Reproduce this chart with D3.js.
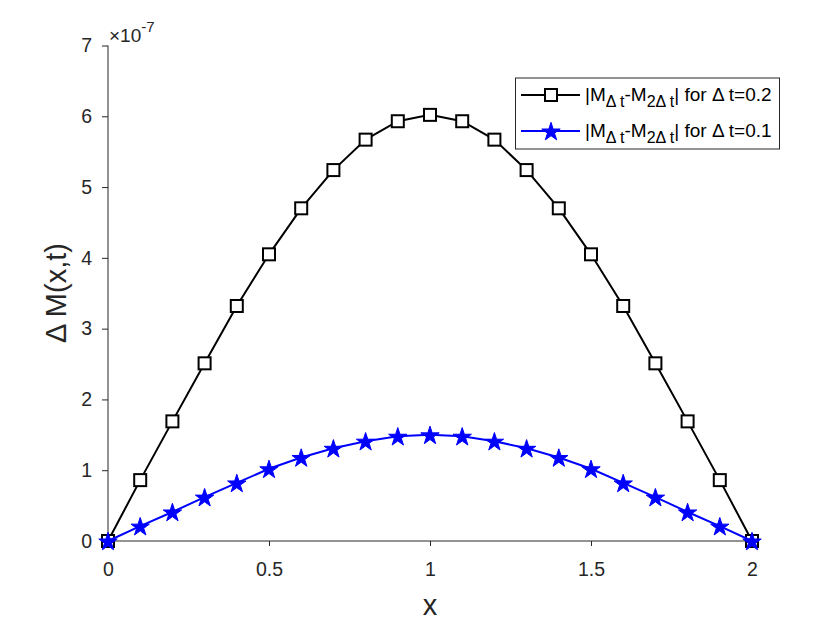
<!DOCTYPE html>
<html><head><meta charset="utf-8">
<script src="https://cdn.jsdelivr.net/npm/d3@7"></script>
<style>body{margin:0;background:#fff}svg{font-family:"Liberation Sans",Arial,Helvetica,sans-serif}</style>
</head><body><svg id="c" width="830" height="623"></svg>
<script>
const xValues = [0,0.1,0.2,0.3,0.4,0.5,0.6,0.7,0.8,0.9,1.0,1.1,1.2,1.3,1.4,1.5,1.6,1.7,1.8,1.9,2.0];
const errDt02 = [0,0.86,1.69,2.51,3.32,4.05,4.70,5.24,5.67,5.93,6.02,5.93,5.67,5.24,4.70,4.05,3.32,2.51,1.69,0.86,0];
const errDt01 = [0,0.21,0.41,0.62,0.82,1.02,1.18,1.31,1.41,1.48,1.50,1.48,1.41,1.31,1.18,1.02,0.82,0.62,0.41,0.21,0];
const xTicks = [0,0.5,1,1.5,2];
const xTickLabels = ["0","0.5","1","1.5","2"];
const yTicks = [0,1,2,3,4,5,6,7];
const seriesNames = ["0.2","0.1"];

const svg = d3.select("#c");
const axCol = "#262626";
const x = d3.scaleLinear().domain([0,2]).range([108,752]);
const y = d3.scaleLinear().domain([0,7]).range([541,45.5]);

const gx = svg.append("g").attr("transform","translate(0,541)")
  .call(d3.axisBottom(x).tickValues(xTicks).tickFormat((d,i)=>xTickLabels[i]).tickSize(5).tickPadding(16));
const gy = svg.append("g").attr("transform","translate(108,0)")
  .call(d3.axisLeft(y).tickValues(yTicks).tickFormat(d3.format("d")).tickSize(6).tickPadding(10));
[gx,gy].forEach(g=>{
  g.attr("font-size",null).attr("font-family",null);
  g.select(".domain").attr("stroke",axCol).attr("stroke-width",1);
  g.selectAll(".tick line").attr("stroke",axCol);
  g.selectAll(".tick text").attr("fill",axCol).style("font-size","19.5px");
});
gx.select(".domain").attr("d","M108,0H752");
gy.select(".domain").attr("d","M0,541V45.5");

// exponent
const ex = svg.append("text").attr("x",109).attr("y",42).attr("fill",axCol).style("font-size","19px");
ex.append("tspan").text("×10");
ex.append("tspan").attr("dy",-10).style("font-size","15px").text("-7");

// axis labels
svg.append("text").attr("x",430).attr("y",615).attr("text-anchor","middle").attr("fill",axCol)
  .style("font-size","29px").text("x");
svg.append("text").attr("transform","translate(66,293) rotate(-90)").attr("text-anchor","middle").attr("fill",axCol)
  .style("font-size","29px").text("Δ M(x,t)");

const line = d3.line().x((d,i)=>x(xValues[i])).y(d=>y(d));

// series 1 black squares
svg.append("path").datum(errDt02).attr("d",line).attr("fill","none").attr("stroke","#000").attr("stroke-width",2);
svg.selectAll(".sq").data(errDt02).join("rect").attr("class","sq")
  .attr("x",(d,i)=>x(xValues[i])-6).attr("y",d=>y(d)-6).attr("width",12).attr("height",12)
  .attr("fill","#fff").attr("stroke","#000").attr("stroke-width",2);

// series 2 blue stars
const star = d3.symbol().type(d3.symbolStar).size(105);
svg.append("path").datum(errDt01).attr("d",line).attr("fill","none").attr("stroke","#0000ff").attr("stroke-width",2);
svg.selectAll(".st").data(errDt01).join("path").attr("class","st")
  .attr("d",star).attr("transform",(d,i)=>`translate(${x(xValues[i])},${y(d)+1})`)
  .attr("fill","#0000ff").attr("stroke","#0000ff").attr("stroke-width",1);

// legend
const lg = svg.append("g");
lg.append("rect").attr("x",515.5).attr("y",78).attr("width",264).attr("height",71)
  .attr("fill","#fff").attr("stroke",axCol).attr("stroke-width",1);
const rowsY = [95,131];
function legendText(g, yy, val){
  const t = g.append("text").attr("x",585).attr("y",yy+6).attr("fill","#000").style("font-size","19px");
  t.append("tspan").text("|M");
  t.append("tspan").attr("dy",6).style("font-size","16px").text("Δ t");
  t.append("tspan").attr("dy",-6).text("-M");
  t.append("tspan").attr("dy",6).style("font-size","16px").text("2Δ t");
  t.append("tspan").attr("dy",-6).text("| for Δ t="+val);
}
lg.append("line").attr("x1",521).attr("x2",580).attr("y1",rowsY[0]).attr("y2",rowsY[0]).attr("stroke","#000").attr("stroke-width",2);
lg.append("rect").attr("x",545).attr("y",rowsY[0]-6).attr("width",12).attr("height",12).attr("fill","#fff").attr("stroke","#000").attr("stroke-width",2);
legendText(lg, rowsY[0], seriesNames[0]);
lg.append("line").attr("x1",521).attr("x2",580).attr("y1",rowsY[1]).attr("y2",rowsY[1]).attr("stroke","#0000ff").attr("stroke-width",2);
lg.append("path").attr("d",star).attr("transform",`translate(551,${rowsY[1]+1})`).attr("fill","#0000ff").attr("stroke","#0000ff");
legendText(lg, rowsY[1], seriesNames[1]);
</script></body></html>
